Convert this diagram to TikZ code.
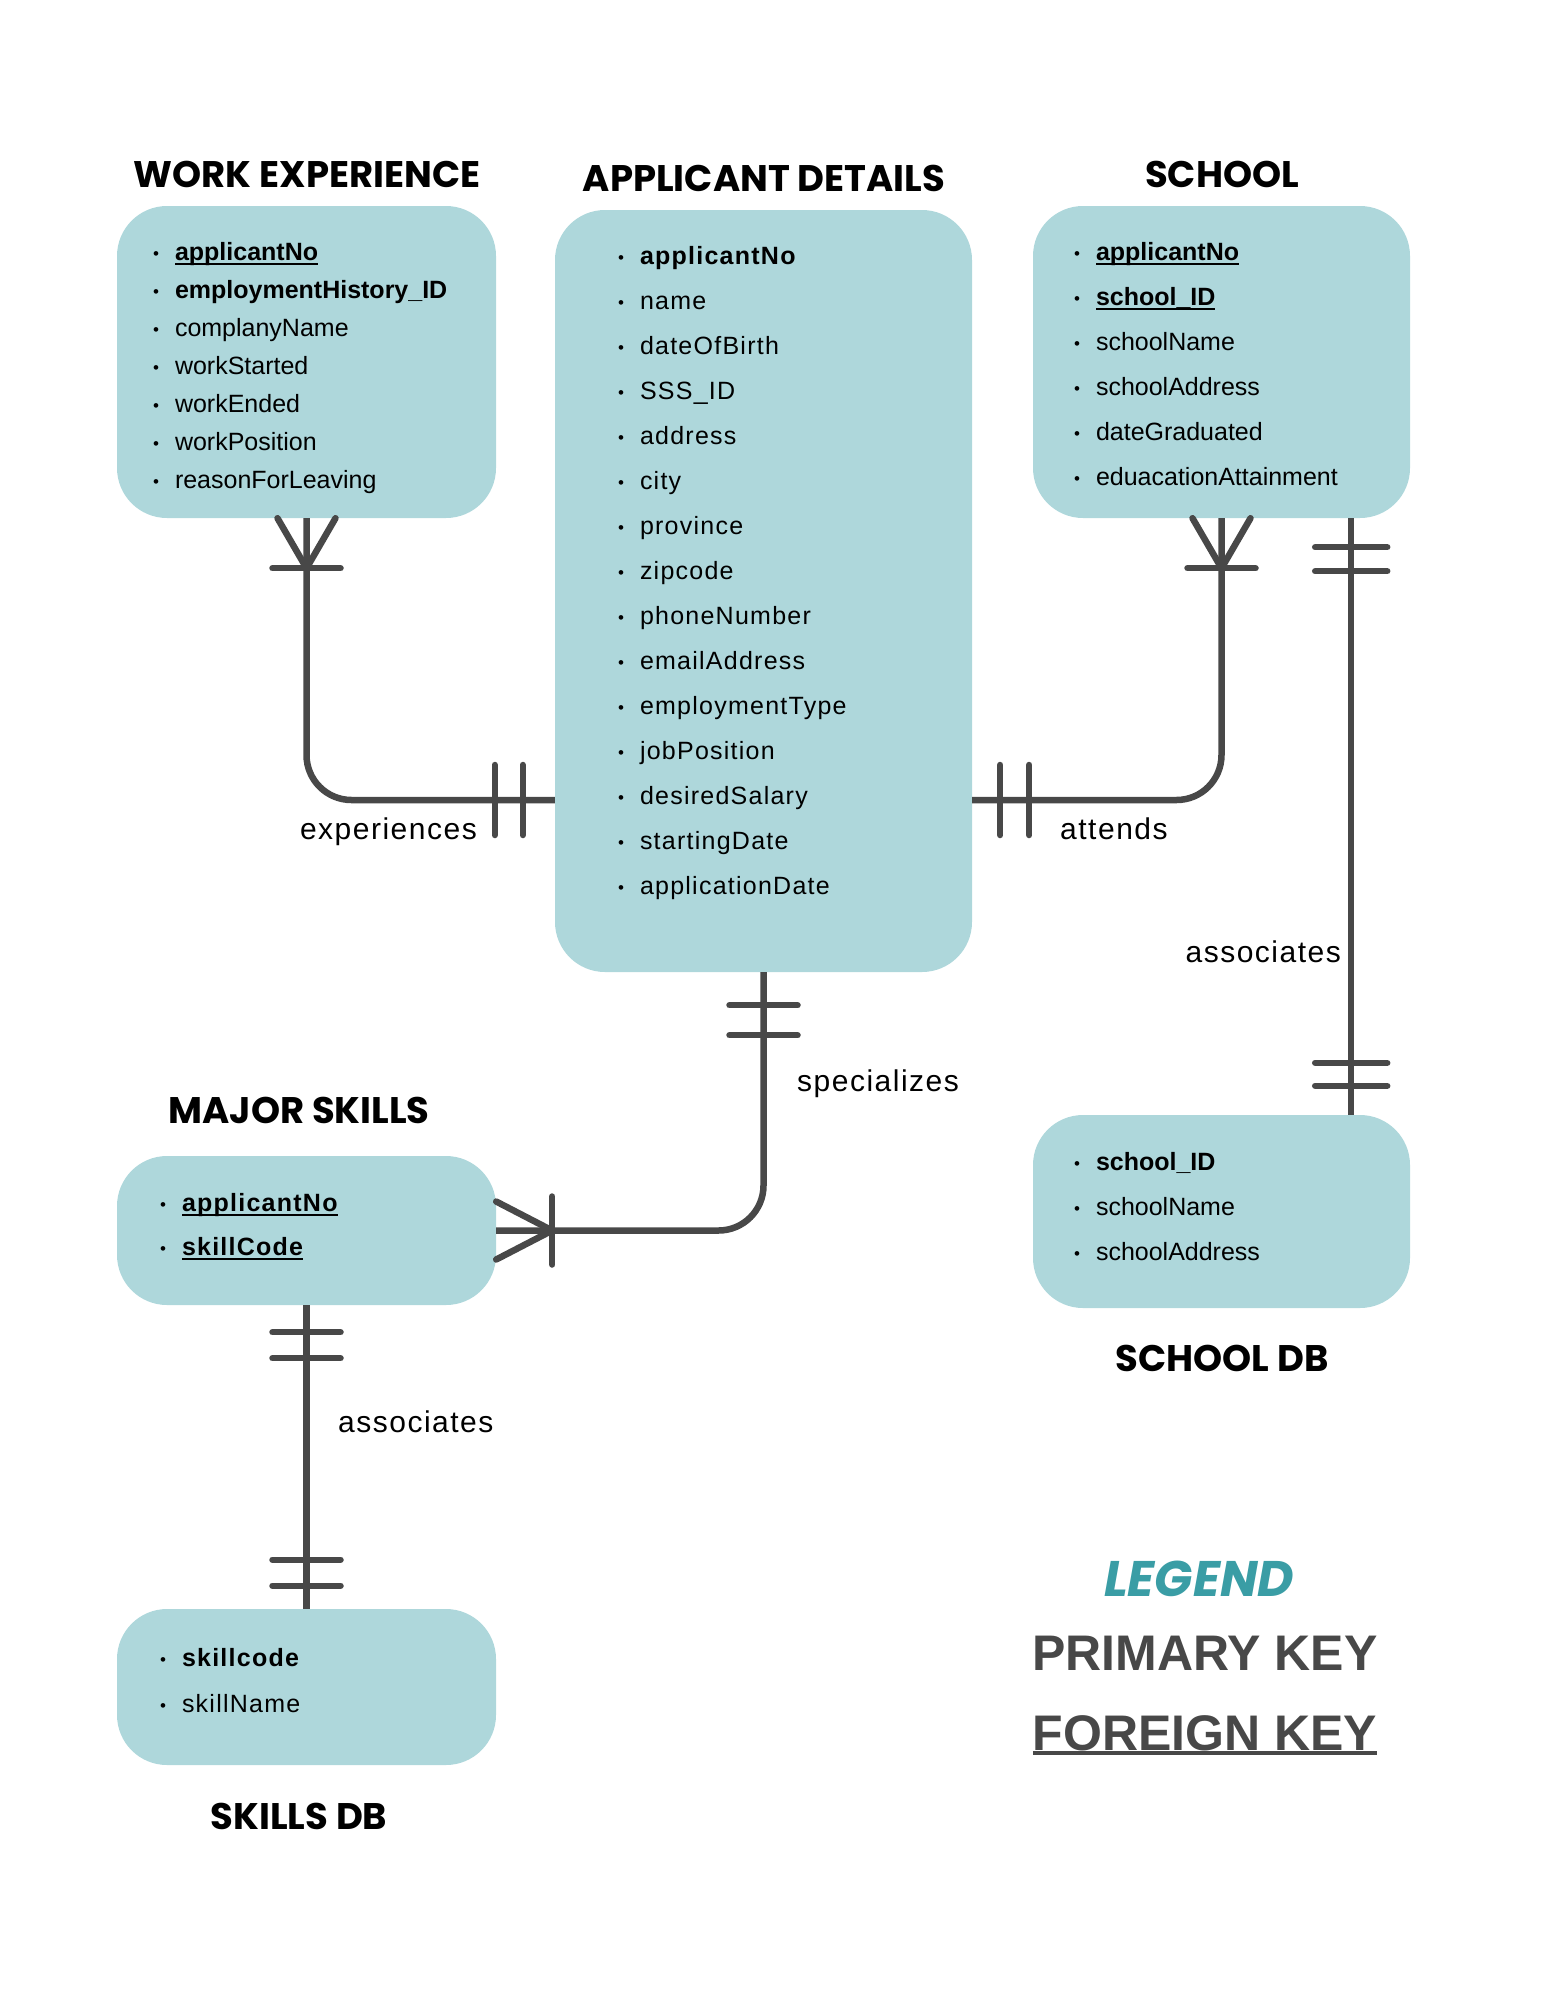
\documentclass[tikz,border=0pt]{standalone}
\usepackage{fontspec}
\setmainfont{Liberation Sans}
\newfontfamily\headfont{Poppins}
\newfontfamily\spacedfont{Liberation Sans}[LetterSpace=5]
\usetikzlibrary{positioning}
\definecolor{erblue}{HTML}{AED7DB}
\definecolor{ergray}{HTML}{484848}
\definecolor{erteal}{HTML}{3A9DA5}
\newcommand{\itm}[1]{\makebox[22pt][l]{\raisebox{1pt}{\fontsize{17}{17}\selectfont\textbullet}}#1}
\newcommand{\keyline}[2]{\setbox0\hbox{#2}\rlap{\copy0}\rule[-5pt]{\wd0}{#1}}
\tikzset{
  entity/.style={fill=erblue,rounded corners=50pt,inner sep=0pt},
  heading/.style={anchor=base,font=\headfont\bfseries\fontsize{37}{44}\selectfont},
  attrs/.style={align=left,inner sep=0pt,font=\fontsize{25}{38}\selectfont},
  rel/.style={draw=ergray,line width=6.5pt,rounded corners=45pt},
  tick/.style={draw=ergray,line width=6.5pt,line cap=round},
  lbl/.style={inner sep=0pt,font=\spacedfont\fontsize{30}{36}\selectfont}
}
\begin{document}
\begin{tikzpicture}[x=1pt,y=-1pt]
\useasboundingbox (0,0) rectangle (1545,2000);
% entities
\node[entity,minimum width=379pt,minimum height=312pt] (we) at (306.5,362) {};
\node[entity,minimum width=417pt,minimum height=762pt] (ad) at (763.5,591) {};
\node[entity,minimum width=377pt,minimum height=312pt] (sch) at (1221.5,362) {};
\node[entity,minimum width=379pt,minimum height=149pt] (ms) at (306.5,1230.5) {};
\node[entity,minimum width=377pt,minimum height=193pt] (sdb) at (1221.5,1211.5) {};
\node[entity,minimum width=379pt,minimum height=156pt] (skdb) at (306.5,1687) {};
% headings
\node[heading] (weT) at (307,187) {WORK EXPERIENCE};
\node[heading] (adT) at (764,191) {APPLICANT DETAILS};
\node[heading] (schT) at (1222,187) {SCHOOL};
\node[heading] (msT) at (299,1123) {MAJOR SKILLS};
\node[heading] (sdbT) at (1222,1371) {SCHOOL DB};
\node[heading] (skdbT) at (299,1829) {SKILLS DB};
% attributes
\node[attrs,below right=36pt and 36pt of we.north west] (weL) {%
\itm{\bfseries\keyline{2pt}{applicantNo}}\\
\itm{\bfseries employmentHistory\_ID}\\
\itm{complanyName}\\
\itm{workStarted}\\
\itm{workEnded}\\
\itm{workPosition}\\
\itm{reasonForLeaving}};
\node[attrs,font=\spacedfont\fontsize{25}{45}\selectfont,below right=36pt and 63pt of ad.north west] (adL) {%
\itm{\bfseries applicantNo}\\
\itm{name}\\
\itm{dateOfBirth}\\
\itm{SSS\_ID}\\
\itm{address}\\
\itm{city}\\
\itm{province}\\
\itm{zipcode}\\
\itm{phoneNumber}\\
\itm{emailAddress}\\
\itm{employmentType}\\
\itm{jobPosition}\\
\itm{desiredSalary}\\
\itm{startingDate}\\
\itm{applicationDate}};
\node[attrs,font=\fontsize{25}{45}\selectfont,below right=36pt and 41pt of sch.north west] (schL) {%
\itm{\bfseries\keyline{2pt}{applicantNo}}\\
\itm{\bfseries\keyline{2pt}{school\_ID}}\\
\itm{schoolName}\\
\itm{schoolAddress}\\
\itm{dateGraduated}\\
\itm{eduacationAttainment}};
\node[attrs,font=\spacedfont\fontsize{25}{44}\selectfont,below right=37pt and 43pt of ms.north west] (msL) {%
\itm{\bfseries\keyline{2pt}{applicantNo}}\\
\itm{\bfseries\keyline{2pt}{skillCode}}};
\node[attrs,font=\fontsize{25}{45}\selectfont,below right=37pt and 41pt of sdb.north west] (sdbL) {%
\itm{\bfseries school\_ID}\\
\itm{schoolName}\\
\itm{schoolAddress}};
\node[attrs,font=\spacedfont\fontsize{25}{46}\selectfont,below right=39pt and 43pt of skdb.north west] (skdbL) {%
\itm{\bfseries skillcode}\\
\itm{skillName}};
% relationships
\draw[rel] (we.south) |- ([yshift=-209pt]ad.west);
\draw[rel] (sch.south) |- ([yshift=-209pt]ad.east);
\draw[rel] ([xshift=-59pt]sch.south east) -- ([xshift=-59pt]sdb.north east);
\draw[rel] (ad.south) |- (ms.east);
\draw[rel] (ms.south) -- (skdb.north);
% crow's feet
\foreach \n in {we,sch}{
  \draw[tick] ([xshift=-29pt]\n.south) -- ([yshift=-50pt]\n.south) -- ([xshift=29pt]\n.south);
  \draw[tick] ([xshift=-34pt,yshift=-50pt]\n.south) -- ([xshift=34pt,yshift=-50pt]\n.south);
}
\draw[tick] ([yshift=29pt]ms.east) -- ([xshift=56pt]ms.east) -- ([yshift=-29pt]ms.east);
\draw[tick] ([xshift=56pt,yshift=34pt]ms.east) -- ([xshift=56pt,yshift=-34pt]ms.east);
% one-and-only-one bars
\foreach \d in {-60,-32}
  \draw[tick] ([xshift=\d pt,yshift=-174pt]ad.west) -- ([xshift=\d pt,yshift=-244pt]ad.west);
\foreach \d in {28,57}
  \draw[tick] ([xshift=\d pt,yshift=-174pt]ad.east) -- ([xshift=\d pt,yshift=-244pt]ad.east);
\foreach \d in {-33,-63}
  \draw[tick] ([xshift=-34pt,yshift=\d pt]ad.south) -- ([xshift=34pt,yshift=\d pt]ad.south);
\foreach \d in {-29,-53}
  \draw[tick] ([xshift=-95pt,yshift=\d pt]sch.south east) -- ([xshift=-23pt,yshift=\d pt]sch.south east);
\foreach \d in {52,29}
  \draw[tick] ([xshift=-95pt,yshift=\d pt]sdb.north east) -- ([xshift=-23pt,yshift=\d pt]sdb.north east);
\foreach \d in {-27,-53}
  \draw[tick] ([xshift=-34pt,yshift=\d pt]ms.south) -- ([xshift=34pt,yshift=\d pt]ms.south);
\foreach \d in {49,23}
  \draw[tick] ([xshift=-34pt,yshift=\d pt]skdb.north) -- ([xshift=34pt,yshift=\d pt]skdb.north);
% relationship names
\node[lbl,anchor=base east] (expL) at (477,839) {experiences};
\node[lbl,anchor=base west] (attL) at (1060,839) {attends};
\node[lbl,anchor=base east] (asc1L) at (1341,962) {associates};
\node[lbl,anchor=base west] (spcL) at (797,1091) {specializes};
\node[lbl,anchor=base west] (asc2L) at (338,1432) {associates};
% legend
\node[anchor=base,text=erteal,font=\headfont\bfseries\itshape\fontsize{50}{60}\selectfont] (leg) at (1199,1596) {LEGEND};
\node[anchor=base,text=ergray,font=\bfseries\fontsize{50}{60}\selectfont] (pk) at (1205,1670) {PRIMARY KEY};
\node[anchor=base,text=ergray,font=\bfseries\fontsize{50}{60}\selectfont] (fk) at (1205,1750) {\keyline{4pt}{FOREIGN KEY}};
\end{tikzpicture}
\end{document}
